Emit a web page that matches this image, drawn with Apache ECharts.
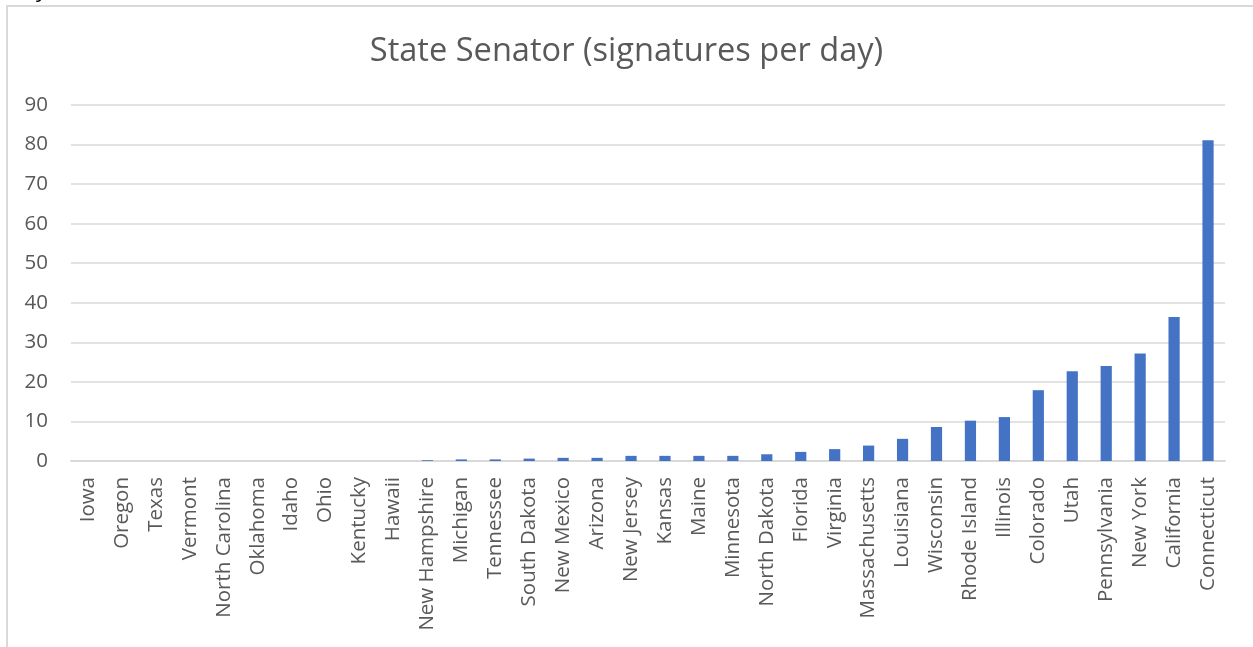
<!DOCTYPE html>
<html>
<head>
<meta charset="utf-8">
<script src="https://cdn.jsdelivr.net/npm/echarts@6/dist/echarts.min.js"></script>
<style>
html,body{margin:0;padding:0;background:#fff;}
#chart{width:1253px;height:647px;}
</style>
</head>
<body>
<div id="chart"></div>
<script>
var titleText = 'State Senator (signatures per day)';
var states = ['Iowa','Oregon','Texas','Vermont','North Carolina','Oklahoma','Idaho','Ohio','Kentucky','Hawaii','New Hampshire','Michigan','Tennessee','South Dakota','New Mexico','Arizona','New Jersey','Kansas','Maine','Minnesota','North Dakota','Florida','Virginia','Massachusetts','Louisiana','Wisconsin','Rhode Island','Illinois','Colorado','Utah','Pennsylvania','New York','California','Connecticut'];
var signaturesPerDay = [0,0,0,0,0,0,0,0,0,0,0.2,0.4,0.4,0.6,0.8,0.8,1.3,1.3,1.3,1.3,1.7,2.3,3.0,3.9,5.6,8.6,10.2,11.1,17.9,22.7,24.0,27.2,36.4,81.1];
var yMin = 0, yMax = 90, yStep = 10;

var chart = echarts.init(document.getElementById('chart'), null, {renderer:'canvas'});
var font = '"Open Sans", "Segoe UI", sans-serif';
chart.setOption({
  backgroundColor:'#ffffff',
  animation:false,
  title:{
    text:titleText, left:'center', top:30,
    textStyle:{fontFamily:font, fontSize:32.6, fontWeight:'normal', color:'#595959'}
  },
  grid:{left:71, right:28, top:105, bottom:186, containLabel:false},
  xAxis:{
    type:'category', data:states,
    axisLine:{show:true, lineStyle:{color:'#d9d9d9', width:2}},
    axisTick:{show:false},
    axisLabel:{rotate:90, interval:0, margin:16, color:'#595959', fontFamily:font, fontSize:20.5}
  },
  yAxis:{
    type:'value', min:yMin, max:yMax, interval:yStep,
    axisLine:{show:false}, axisTick:{show:false},
    splitLine:{lineStyle:{color:'#d9d9d9', width:1.5}},
    axisLabel:{margin:23, color:'#595959', fontFamily:font, fontSize:20.5}
  },
  series:[{
    type:'bar', data:signaturesPerDay, barWidth:'33%',
    itemStyle:{color:'#4472c4'}
  }],
  graphic:[
    {type:'rect', shape:{x:7, y:6, width:1260, height:700}, style:{fill:null, stroke:'#d9d9d9', lineWidth:2}, silent:true},
    {type:'text', x:36, y:-20, style:{text:'y', font:'22px "Open Sans", sans-serif', fill:'#000'}, silent:true}
  ]
});
</script>
</body>
</html>
